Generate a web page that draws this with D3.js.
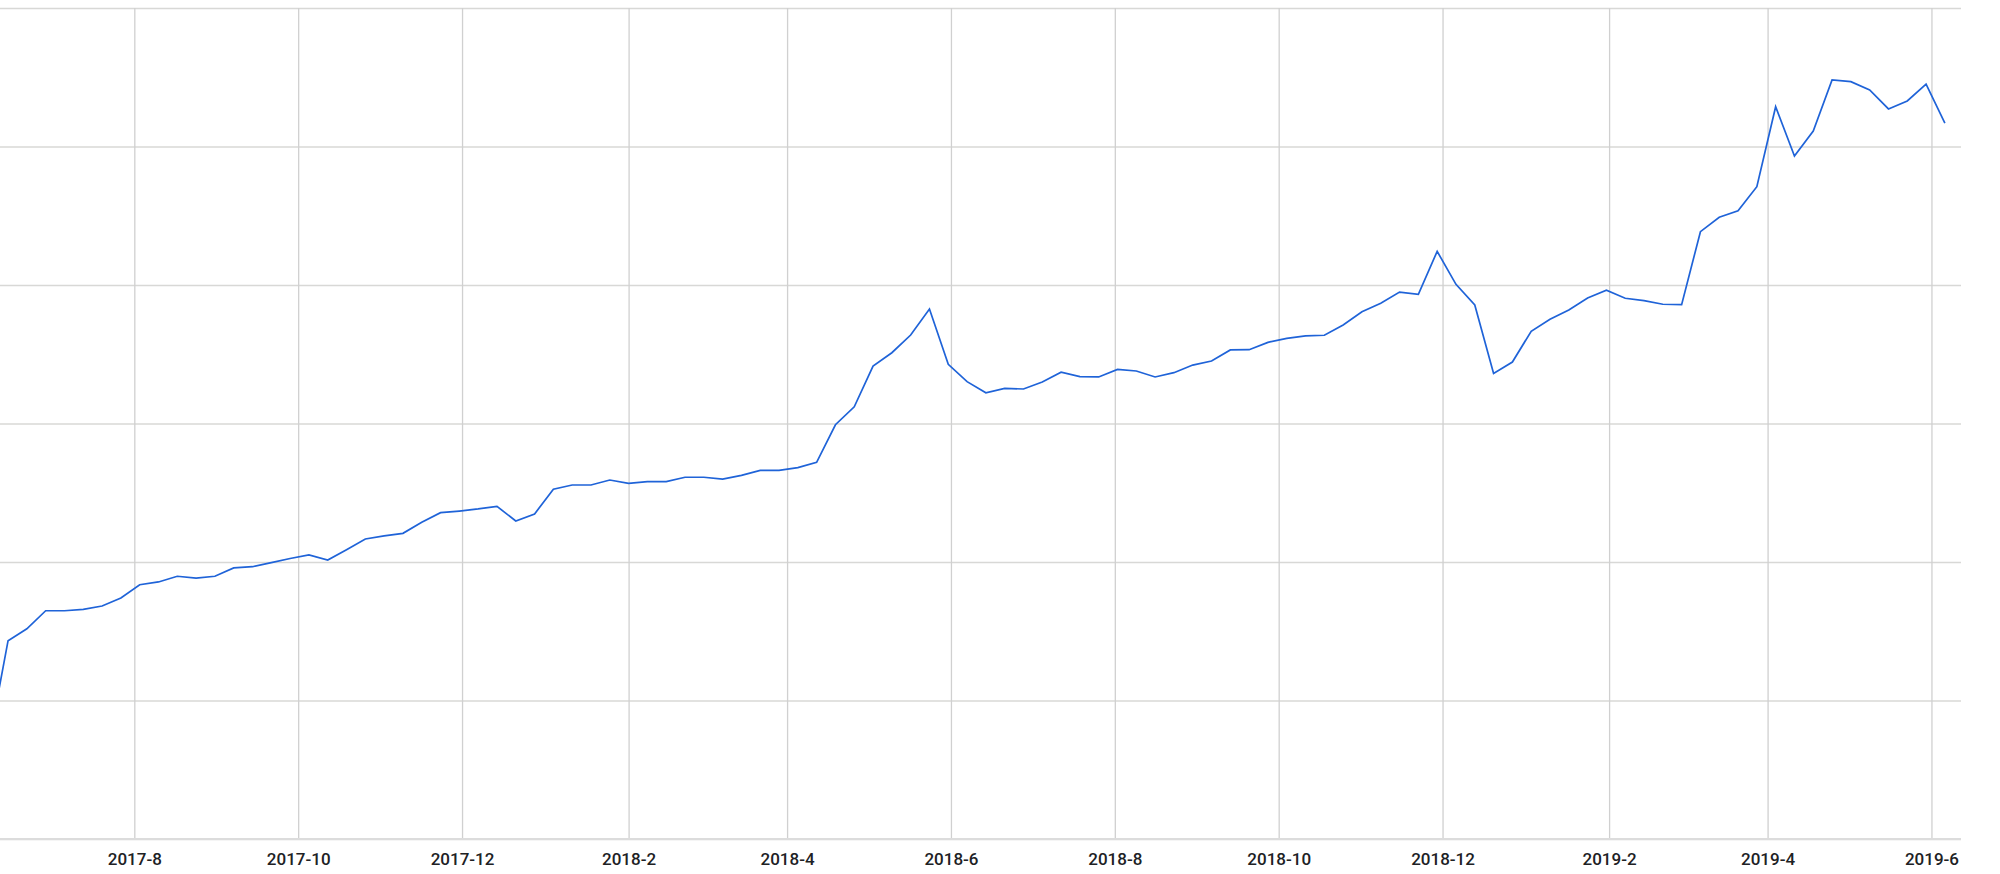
<!DOCTYPE html>
<html>
<head>
<meta charset="utf-8">
<script src="https://cdn.jsdelivr.net/npm/d3@7"></script>
<style>
  html, body { margin: 0; padding: 0; background: #ffffff; }
  svg { display: block; }
  .tick-label { font-family: Roboto, "Noto Sans", sans-serif; font-size: 17px; font-weight: 500; fill: #202124; }
</style>
</head>
<body>
<svg id="chart" width="2000" height="874"></svg>
<script>
// ---- data ----
const weeks = [
  "2017-06-08","2017-06-15","2017-06-22","2017-06-29","2017-07-06","2017-07-13","2017-07-20","2017-07-27",
  "2017-08-03","2017-08-10","2017-08-17","2017-08-24","2017-08-31","2017-09-07","2017-09-14","2017-09-21",
  "2017-09-28","2017-10-05","2017-10-12","2017-10-19","2017-10-26","2017-11-02","2017-11-09","2017-11-16",
  "2017-11-23","2017-11-30","2017-12-07","2017-12-14","2017-12-21","2017-12-28",
  "2018-01-04","2018-01-11","2018-01-18","2018-01-25","2018-02-01","2018-02-08","2018-02-15","2018-02-22",
  "2018-03-01","2018-03-08","2018-03-15","2018-03-22","2018-03-29","2018-04-05","2018-04-12","2018-04-19",
  "2018-04-26","2018-05-03","2018-05-10","2018-05-17","2018-05-24","2018-05-31","2018-06-07","2018-06-14",
  "2018-06-21","2018-06-28","2018-07-05","2018-07-12","2018-07-19","2018-07-26","2018-08-02","2018-08-09",
  "2018-08-16","2018-08-23","2018-08-30","2018-09-06","2018-09-13","2018-09-20","2018-09-27","2018-10-04",
  "2018-10-11","2018-10-18","2018-10-25","2018-11-01","2018-11-08","2018-11-15","2018-11-22","2018-11-29",
  "2018-12-06","2018-12-13","2018-12-20","2018-12-27",
  "2019-01-03","2019-01-10","2019-01-17","2019-01-24","2019-01-31","2019-02-07","2019-02-14","2019-02-21",
  "2019-02-28","2019-03-07","2019-03-14","2019-03-21","2019-03-28","2019-04-04","2019-04-11","2019-04-18",
  "2019-04-25","2019-05-02","2019-05-09","2019-05-16","2019-05-23","2019-05-30","2019-06-06"
];

const values = [
  7.03, 14.32, 15.18, 16.48, 16.48, 16.58, 16.82, 17.40,
  18.36, 18.56, 18.97, 18.84, 18.97, 19.57, 19.66, 19.95,
  20.25, 20.51, 20.14, 20.89, 21.66, 21.88, 22.07, 22.87,
  23.56, 23.68, 23.83, 24.02, 22.96, 23.47,
  25.25, 25.56, 25.56, 25.92, 25.68, 25.80, 25.80, 26.12,
  26.12, 25.99, 26.26, 26.62, 26.62, 26.81, 27.20, 29.91,
  31.21, 34.15, 35.11, 36.39, 38.27, 34.27, 33.02, 32.22,
  32.54, 32.49, 33.00, 33.70, 33.38, 33.36, 33.91, 33.79,
  33.36, 33.67, 34.22, 34.51, 35.31, 35.33, 35.86, 36.15,
  36.32, 36.37, 37.11, 38.07, 38.68, 39.49, 39.33, 42.43,
  40.05, 38.56, 33.62, 34.44,
  36.66, 37.52, 38.19, 39.06, 39.62, 39.04, 38.87, 38.61,
  38.58, 43.85, 44.89, 45.36, 47.10, 52.87, 49.31, 51.12,
  54.80, 54.68, 54.08, 52.71, 53.29, 54.51, 51.68
];

const xDomain = ["2017-06-12", "2019-06-12"];
const tickDates = ["2017-08-01","2017-10-01","2017-12-01","2018-02-01","2018-04-01","2018-06-01",
                   "2018-08-01","2018-10-01","2018-12-01","2019-02-01","2019-04-01","2019-06-01"];
const yTicks = [0, 10, 20, 30, 40, 50, 60];

// ---- layout ----
const parse = d3.utcParse("%Y-%m-%d");
const fmt = d3.utcFormat("%Y-%-m");
const plot = { left: 0, right: 1961, top: 8, bottom: 839 };

const data = weeks.map((w, i) => ({ date: parse(w), value: values[i] }));

const x = d3.scaleUtc().domain(xDomain.map(parse)).range([plot.left, plot.right]);
const y = d3.scaleLinear().domain([0, 60]).range([plot.bottom, plot.top]);

const svg = d3.select("#chart");

svg.append("defs").append("clipPath").attr("id", "plotclip")
  .append("rect")
  .attr("x", plot.left).attr("y", plot.top - 2)
  .attr("width", plot.right - plot.left).attr("height", plot.bottom - plot.top + 4);

// horizontal gridlines
svg.append("g")
  .attr("transform", `translate(${plot.left},0)`)
  .call(d3.axisLeft(y).tickValues(yTicks).tickSize(-(plot.right - plot.left)).tickFormat(""))
  .call(g => g.select(".domain").remove())
  .call(g => g.selectAll(".tick line").attr("stroke", "#d8d8d6").attr("stroke-width", 1.5));

// vertical gridlines + labels
const tickValues = tickDates.map(parse);
const xg = svg.append("g")
  .attr("transform", `translate(0,${plot.bottom})`)
  .call(d3.axisBottom(x).tickValues(tickValues).tickSize(-(plot.bottom - plot.top)).tickPadding(14).tickFormat(fmt))
  .call(g => g.select(".domain").remove());
xg.selectAll(".tick line").attr("stroke", "#d0d0d0").attr("stroke-width", 1.3);
xg.selectAll(".tick text").attr("class", "tick-label").attr("fill", null);

// bottom axis line
svg.append("line")
  .attr("x1", plot.left).attr("x2", plot.right)
  .attr("y1", y(0)).attr("y2", y(0))
  .attr("stroke", "#dcdcdc").attr("stroke-width", 1.8);

// series line
const line = d3.line().x(d => x(d.date)).y(d => y(d.value));
svg.append("path")
  .datum(data)
  .attr("clip-path", "url(#plotclip)")
  .attr("d", line)
  .attr("fill", "none")
  .attr("stroke", "#1f63d8")
  .attr("stroke-width", 1.7)
  .attr("stroke-linejoin", "miter");
</script>
</body>
</html>
